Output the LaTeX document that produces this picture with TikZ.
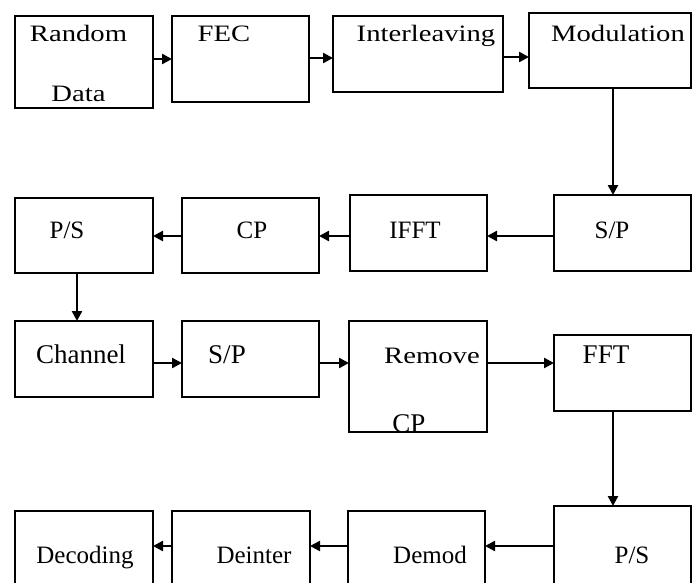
\documentclass[tikz,border=0pt]{standalone}
\usepackage{fontspec}
\setmainfont{Liberation Serif}
\newfontfamily\widefont[FakeStretch=1.22]{Liberation Serif}
\usetikzlibrary{arrows.meta}
\tikzset{
  box/.style={draw, line width=2.2pt, inner sep=0pt, outer sep=0pt},
  arr/.style={line width=2.4pt, -{Triangle[length=10pt,width=10pt]}},
  txt/.style={inner sep=0pt, anchor=base, font=\fontsize{25}{30}\selectfont},
  txtb/.style={inner sep=0pt, anchor=base, font=\fontsize{27}{32}\selectfont},
  wtxt/.style={inner sep=0pt, anchor=base, font=\widefont\fontsize{23.5}{28}\selectfont}
}
\begin{document}
\begin{tikzpicture}[x=1pt,y=-1pt]
\useasboundingbox (0,0) rectangle (697,582);
\clip (0,0) rectangle (697,582);
\fill[white] (0,0) rectangle (697,582);
% boxes
\node[box, minimum width=138pt, minimum height=92pt] (rd)   at (84,62) {};
\node[box, minimum width=137pt, minimum height=86pt] (fec)  at (240.5,59) {};
\node[box, minimum width=170pt, minimum height=76pt] (il)   at (418,54) {};
\node[box, minimum width=162pt, minimum height=75pt] (mod)  at (610,50.5) {};
\node[box, minimum width=138pt, minimum height=75pt] (ps1)  at (84,235.5) {};
\node[box, minimum width=137pt, minimum height=75pt] (cp1)  at (250.5,235.5) {};
\node[box, minimum width=137pt, minimum height=76pt] (ifft) at (418.5,233) {};
\node[box, minimum width=137pt, minimum height=76pt] (sp1)  at (622.5,233) {};
\node[box, minimum width=138pt, minimum height=76pt] (ch)   at (84,359) {};
\node[box, minimum width=137pt, minimum height=76pt] (sp2)  at (250.5,359) {};
\node[box, minimum width=138pt, minimum height=111pt] (rcp) at (418,376.5) {};
\node[box, minimum width=137pt, minimum height=76pt] (fft)  at (622.5,373) {};
\node[box, minimum width=138pt, minimum height=89pt] (dec)  at (84,555.5) {};
\node[box, minimum width=138pt, minimum height=89pt] (dint) at (241,555.5) {};
\node[box, minimum width=137pt, minimum height=89pt] (dem)  at (416.5,555.5) {};
\node[box, minimum width=137pt, minimum height=94pt] (ps2)  at (622.5,553) {};
% labels
\node[wtxt] (t1) at (78.5,41) {Random};
\node[wtxt] (t2) at (78.5,101) {Data};
\node[wtxt] (t3) at (224,41) {FEC};
\node[wtxt] (t4) at (426,41) {Interleaving};
\node[wtxt] (t5) at (618,41) {Modulation};
\node[txt] (t6) at (67,238) {P/S};
\node[txt] (t7) at (252,238) {CP};
\node[txt] (t8) at (415,238) {IFFT};
\node[txt] (t9) at (612,238) {S/P};
\node[txtb] (t10) at (81,363) {Channel};
\node[txtb] (t11) at (227,363) {S/P};
\node[wtxt] (t12) at (432,363) {Remove};
\node[txtb] (t13) at (409,432) {CP};
\node[txtb] (t14) at (606,363) {FFT};
\node[txt] (t15) at (85,563) {Decoding};
\node[txt] (t16) at (254,563) {Deinter};
\node[txt] (t17) at (430,563) {Demod};
\node[txt] (t18) at (632,563) {P/S};
% connector levels
\coordinate (ya) at (0,59);
\coordinate (yb) at (0,58);
\coordinate (yc) at (0,57);
\coordinate (yd) at (0,236);
\coordinate (ye) at (0,363);
\coordinate (yf) at (0,546);
\coordinate (xa) at (613,0);
\coordinate (xb) at (77,0);
% connectors
\draw[arr] (rd.east |- ya) -- (fec.west |- ya);
\draw[arr] (fec.east |- yb) -- (il.west |- yb);
\draw[arr] (il.east |- yc) -- (mod.west |- yc);
\draw[arr] (mod.south -| xa) -- (sp1.north -| xa);
\draw[arr] (sp1.west |- yd) -- (ifft.east |- yd);
\draw[arr] (ifft.west |- yd) -- (cp1.east |- yd);
\draw[arr] (cp1.west |- yd) -- (ps1.east |- yd);
\draw[arr] (ps1.south -| xb) -- (ch.north -| xb);
\draw[arr] (ch.east |- ye) -- (sp2.west |- ye);
\draw[arr] (sp2.east |- ye) -- (rcp.west |- ye);
\draw[arr] (rcp.east |- ye) -- (fft.west |- ye);
\draw[arr] (fft.south -| xa) -- (ps2.north -| xa);
\draw[arr] (ps2.west |- yf) -- (dem.east |- yf);
\draw[arr] (dem.west |- yf) -- (dint.east |- yf);
\draw[arr] (dint.west |- yf) -- (dec.east |- yf);
\end{tikzpicture}
\end{document}
